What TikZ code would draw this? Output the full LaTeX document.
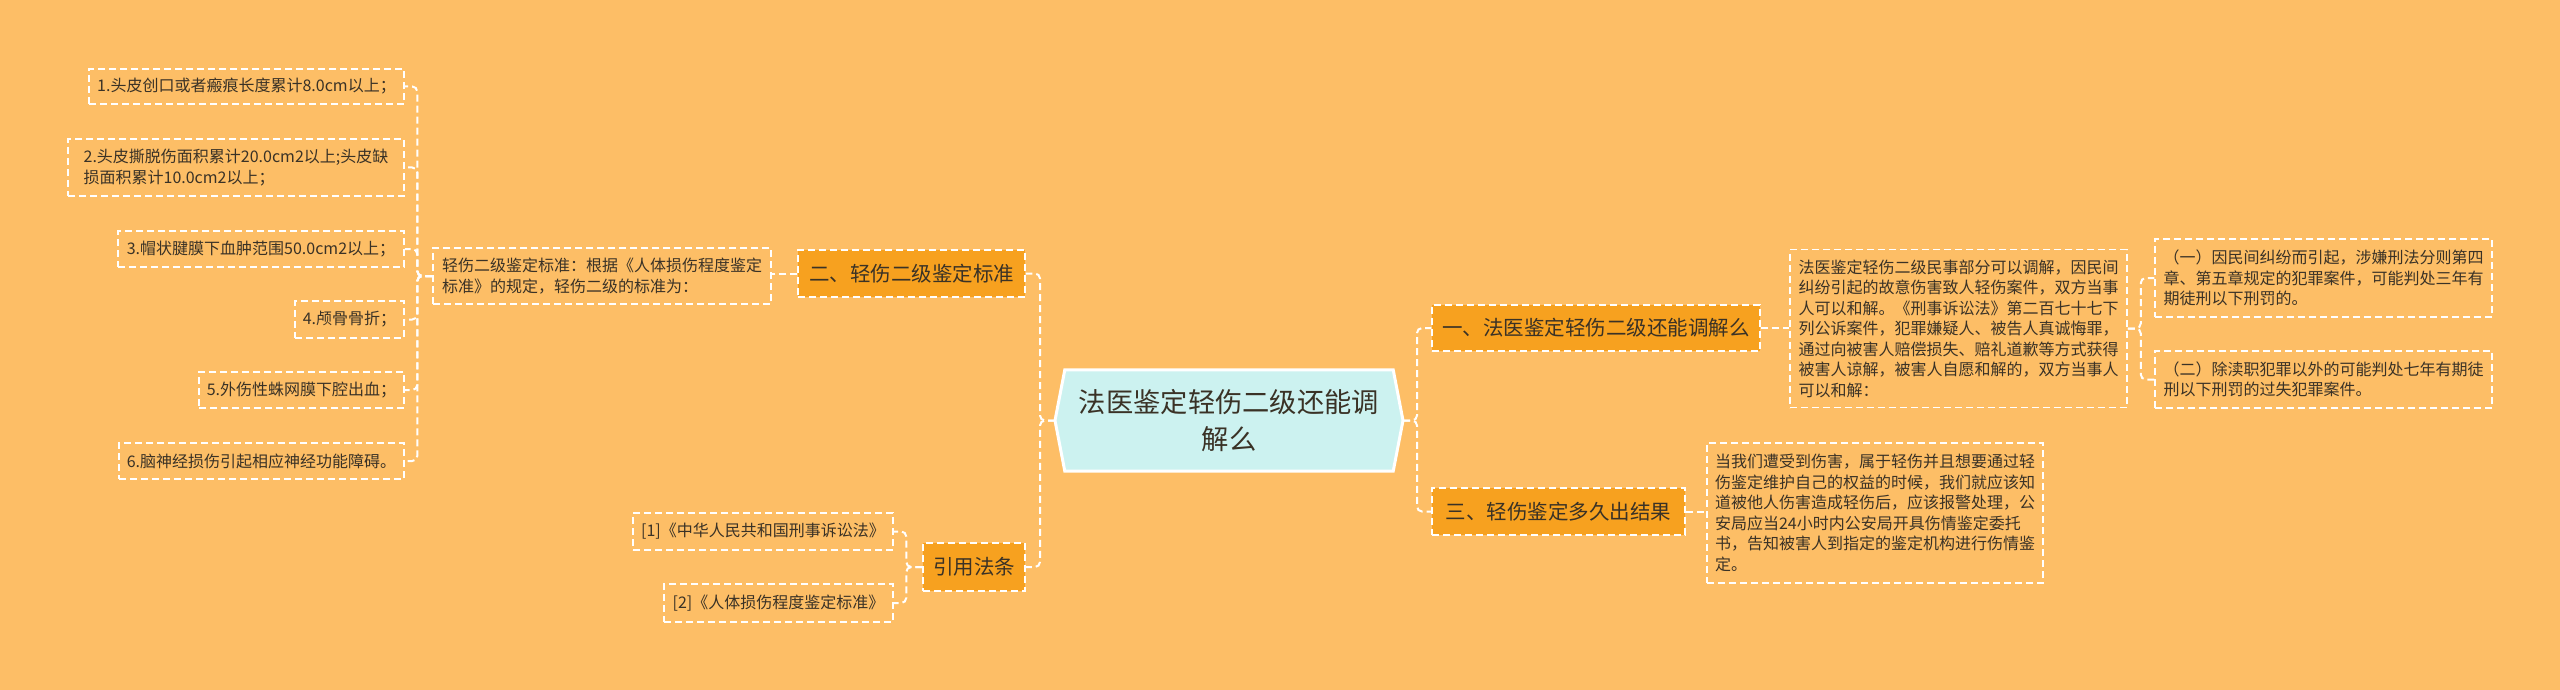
\documentclass[tikz,border=0pt]{standalone}
\usepackage{fontspec}
\setmainfont{Noto Sans CJK SC}
\usetikzlibrary{backgrounds}
\definecolor{bg}{HTML}{FDBE66}
\definecolor{br}{HTML}{F7A11F}
\definecolor{cen}{HTML}{CCF2F0}
\definecolor{txt}{HTML}{3A3226}
\begin{document}
\begin{tikzpicture}[x=1pt,y=-1pt,
  conn/.style={draw=white, line width=2pt, dash pattern=on 7pt off 4pt, rounded corners=5pt},
  leafbox/.style={draw=white, line width=1.5pt, dash pattern=on 7pt off 4pt, inner sep=0pt,
    align=left, text=txt, font=\fontsize{16}{20.5}\selectfont},
  branchbox/.style={leafbox, fill=br, font=\fontsize{20.5}{24}\selectfont},
]
\begin{pgfonlayer}{background}
\fill[bg] (0,0) rectangle (2560,690);
\end{pgfonlayer}
\useasboundingbox (0,0) rectangle (2560,690);

% central node
\node[text=txt, align=center, font=\fontsize{27.3}{37}\selectfont, minimum width=328pt,
      minimum height=101pt, inner sep=0pt] (c) at (1229,420.5) {法医鉴定轻伤二级还能调\\解么};
\coordinate (cL) at (1055,420.5);
\coordinate (cR) at (1403,420.5);
\begin{pgfonlayer}{background}
\draw[white, line width=3pt, fill=cen, line join=miter]
  (cL) -- (c.north west) -- (c.north east) -- (cR) -- (c.south east) -- (c.south west) -- cycle;
\end{pgfonlayer}

% branches
\node[branchbox, minimum width=328pt, minimum height=46pt] (b1) at (1596,328) {一、法医鉴定轻伤二级还能调解么};
\node[branchbox, minimum width=253pt, minimum height=47pt] (b3) at (1558.5,511.5) {三、轻伤鉴定多久出结果};
\node[branchbox, minimum width=227pt, minimum height=47pt] (b2) at (911.5,273.5) {二、轻伤二级鉴定标准};
\node[branchbox, minimum width=102pt, minimum height=48pt] (b4) at (974,567) {引用法条};

% right text boxes
\node[leafbox, minimum width=337pt, minimum height=158pt] (t1) at (1958.5,328.5)
 {法医鉴定轻伤二级民事部分可以调解，因民间\\纠纷引起的故意伤害致人轻伤案件，双方当事\\人可以和解。《刑事诉讼法》第二百七十七下\\列公诉案件，犯罪嫌疑人、被告人真诚悔罪，\\通过向被害人赔偿损失、赔礼道歉等方式获得\\被害人谅解，被害人自愿和解的，双方当事人\\可以和解：};
\node[leafbox, minimum width=337pt, minimum height=78pt] (s1) at (2323.5,278)
 {（一）因民间纠纷而引起，涉嫌刑法分则第四\\章、第五章规定的犯罪案件，可能判处三年有\\期徒刑以下刑罚的。};
\node[leafbox, minimum width=337pt, minimum height=57pt] (s2) at (2323.5,379.5)
 {（二）除渎职犯罪以外的可能判处七年有期徒\\刑以下刑罚的过失犯罪案件。};
\node[leafbox, minimum width=336pt, minimum height=140pt] (t3) at (1875,513)
 {当我们遭受到伤害，属于轻伤并且想要通过轻\\伤鉴定维护自己的权益的时候，我们就应该知\\道被他人伤害造成轻伤后，应该报警处理，公\\安局应当24小时内公安局开具伤情鉴定委托\\书，告知被害人到指定的鉴定机构进行伤情鉴\\定。};

% left text boxes
\node[leafbox, minimum width=338pt, minimum height=56pt] (tl) at (602,276)
 {轻伤二级鉴定标准：根据《人体损伤程度鉴定\\标准》的规定，轻伤二级的标准为：};
\node[leafbox, minimum width=315pt, minimum height=35pt] (l1) at (246.5,86.5) {1.头皮创口或者瘢痕长度累计8.0cm以上；};
\node[leafbox, minimum width=336pt, minimum height=57pt] (l2) at (236,167.5) {2.头皮撕脱伤面积累计20.0cm2以上;头皮缺\\损面积累计10.0cm2以上；};
\node[leafbox, minimum width=286pt, minimum height=36pt] (l3) at (261,249) {3.帽状腱膜下血肿范围50.0cm2以上；};
\node[leafbox, minimum width=109pt, minimum height=37pt] (l4) at (349.5,319.5) {4.颅骨骨折；};
\node[leafbox, minimum width=205pt, minimum height=36pt] (l5) at (301.5,390) {5.外伤性蛛网膜下腔出血；};
\node[leafbox, minimum width=285pt, minimum height=36pt] (l6) at (261.5,461) {6.脑神经损伤引起相应神经功能障碍。};

\node[leafbox, minimum width=260pt, minimum height=37pt] (r1) at (763,531.5) {[1]《中华人民共和国刑事诉讼法》};
\node[leafbox, minimum width=229pt, minimum height=38pt] (r2) at (778.5,603) {[2]《人体损伤程度鉴定标准》};

% connectors
\draw[conn] (cR) -- ++(14,0) |- (b1.west);
\draw[conn] (cR) -- ++(14,0) |- (b3.west);
\draw[conn] (b1.east) -- (b1.east -| t1.west);
\draw[conn] (b3.east) -- (b3.east -| t3.west);
\draw[conn] (t1.east) -- ++(13,0) |- (s1.west);
\draw[conn] (t1.east) -- ++(13,0) |- (s2.west);

\draw[conn] (cL) -- ++(-15,0) |- (b2.east);
\draw[conn] (cL) -- ++(-15,0) |- (b4.east);
\draw[conn] (b2.west) -- (b2.west -| tl.east);
\foreach \n in {l1,l2,l3,l4,l5,l6}
  \draw[conn] (tl.west) -- ++(-15,0) |- (\n.east);
\draw[conn] (b4.west) -- ++(-16,0) |- (r1.east);
\draw[conn] (b4.west) -- ++(-16,0) |- (r2.east);
\end{tikzpicture}
\end{document}
